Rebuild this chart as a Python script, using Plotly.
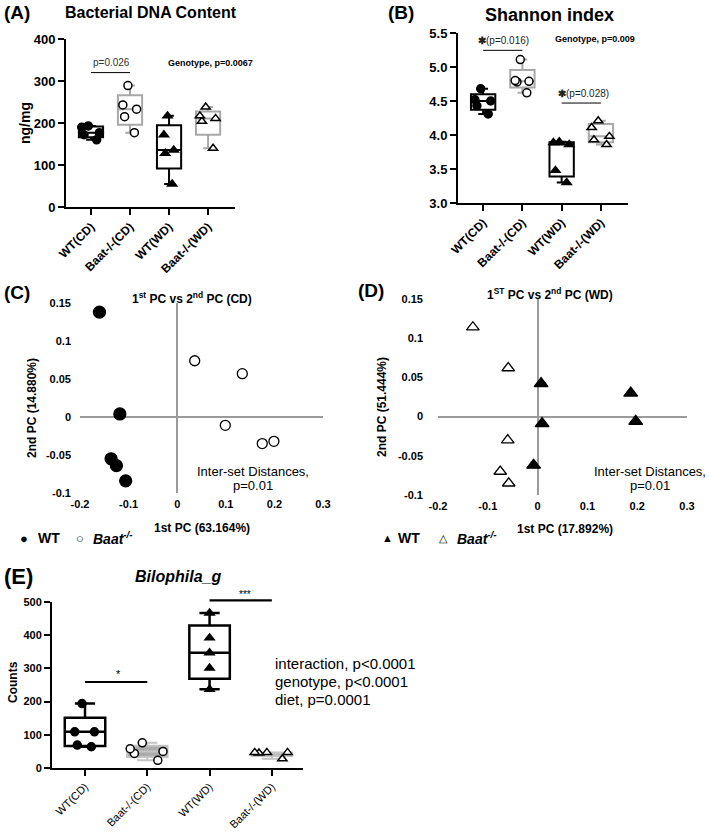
import plotly.graph_objects as go

W, H = 709, 835
FONT = "Liberation Sans, Arial, Helvetica, sans-serif"

GROUPS = ["WT(CD)", "Baat-/-(CD)", "WT(WD)", "Baat-/-(WD)"]

# (A) bacterial DNA content, ng/mg
dna_wt_cd = [193, 190, 177, 172, 160]
dna_ko_cd = [289, 243, 233, 215, 177]
dna_wt_wd = [217, 172, 136, 128, 55]
dna_ko_wd = [238, 217, 211, 204, 140]

# (B) Shannon index
shan_wt_cd = [4.68, 4.52, 4.50, 4.43, 4.31]
shan_ko_cd = [5.11, 4.80, 4.79, 4.78, 4.62]
shan_wt_wd = [3.90, 3.89, 3.86, 3.48, 3.30]
shan_ko_wd = [4.21, 4.11, 3.98, 3.93, 3.86]

# (C) PCA, control diet
cd_wt_pc1 = [-0.160, -0.118, -0.136, -0.125, -0.106]
cd_wt_pc2 = [0.138, 0.004, -0.055, -0.064, -0.084]
cd_ko_pc1 = [0.036, 0.134, 0.099, 0.175, 0.199]
cd_ko_pc2 = [0.074, 0.057, -0.011, -0.035, -0.032]

# (D) PCA, western diet
wd_wt_pc1 = [0.007, 0.187, 0.197, 0.009, -0.008]
wd_wt_pc2 = [0.042, 0.030, -0.006, -0.009, -0.062]
wd_ko_pc1 = [-0.130, -0.059, -0.060, -0.075, -0.058]
wd_ko_pc2 = [0.114, 0.062, -0.030, -0.070, -0.085]

# (E) Bilophila_g counts
bilo_wt_cd = [194, 109, 109, 69, 64]
bilo_ko_cd = [76, 58, 50, 44, 23]
bilo_wt_wd = [467, 392, 347, 301, 237]
bilo_ko_wd = [47, 47, 47, 45, 28]

pc1_ticks = [-0.2, -0.1, 0, 0.1, 0.2, 0.3]
pc1_text = ["-0.2", "-0.1", "0", "0.1", "0.2", "0.3"]
pc2_ticks = [-0.1, -0.05, 0, 0.05, 0.1, 0.15]
pc2_text = ["-0.1", "-0.05", "0", "0.05", "0.1", "0.15"]


def px(x):
    return x / W


def py(y):
    return 1 - y / H


def box(vals, name, ax, col, sym, mfill, jit, width=0.62, ww=0.4, fill="rgba(0,0,0,0)", lw=2, msize=8):
    return go.Box(
        y=vals, x=[name] * len(vals), xaxis="x" + ax, yaxis="y" + ax,
        boxpoints="all", jitter=jit, pointpos=0, quartilemethod="exclusive",
        line={"color": col, "width": lw}, fillcolor=fill, width=width, whiskerwidth=ww,
        marker={"symbol": sym, "color": mfill, "size": msize, "line": {"color": "black", "width": 1.5}},
        showlegend=False,
    )


GREY = "#a8a8a8"
fig = go.Figure()

# (A)
fig.add_trace(box(dna_wt_cd, GROUPS[0], "", "black", "circle", "black", 0.9))
fig.add_trace(box(dna_ko_cd, GROUPS[1], "", GREY, "circle", "white", 0.7))
fig.add_trace(box(dna_wt_wd, GROUPS[2], "", "black", "triangle-up", "black", 0.5))
fig.add_trace(box(dna_ko_wd, GROUPS[3], "", GREY, "triangle-up", "white", 0.8))
# (B)
fig.add_trace(box(shan_wt_cd, GROUPS[0], "2", "black", "circle", "black", 0.8))
fig.add_trace(box(shan_ko_cd, GROUPS[1], "2", GREY, "circle", "white", 0.7))
fig.add_trace(box(shan_wt_wd, GROUPS[2], "2", "black", "triangle-up", "black", 0.8))
fig.add_trace(box(shan_ko_wd, GROUPS[3], "2", GREY, "triangle-up", "white", 0.9))
# (E)
fig.add_trace(box(bilo_wt_cd, GROUPS[0], "5", "black", "circle", "black", 0.6, 0.65, 0.5, lw=2.5))
fig.add_trace(box(bilo_ko_cd, GROUPS[1], "5", "#c4c4c4", "circle", "white", 1.0, 0.65, 0.5, fill="#ababab"))
fig.add_trace(box(bilo_wt_wd, GROUPS[2], "5", "black", "triangle-up", "black", 0.0, 0.65, 0.5, lw=2.5))
fig.add_trace(box(bilo_ko_wd, GROUPS[3], "5", "#c4c4c4", "triangle-up", "white", 1.0, 0.65, 0.5, fill="#ababab"))


def pca(xs, ys, ax, sym, filled, size):
    return go.Scatter(
        x=xs, y=ys, xaxis="x" + ax, yaxis="y" + ax, mode="markers", showlegend=False,
        marker={"symbol": sym, "size": size, "color": "black" if filled else "white",
                "line": {"color": "black", "width": 1.3}},
    )


fig.add_trace(pca(cd_wt_pc1, cd_wt_pc2, "3", "circle", True, 12))
fig.add_trace(pca(cd_ko_pc1, cd_ko_pc2, "3", "circle", False, 10))
fig.add_trace(pca(wd_wt_pc1, wd_wt_pc2, "4", "triangle-up", True, 12))
fig.add_trace(pca(wd_ko_pc1, wd_ko_pc2, "4", "triangle-up", False, 11))


def cat_axes(x0, x1, y0, y1, yr, dtick, xr, xfont, yfont, fmt=""):
    xa = dict(domain=[px(x0), px(x1)], type="category", categoryorder="array", categoryarray=GROUPS,
              range=xr, showline=True, linecolor="black", linewidth=2, ticks="outside", ticklen=6,
              tickwidth=2, tickcolor="black", tickangle=-45, tickfont=xfont, showgrid=False,
              zeroline=False, automargin=False)
    ya = dict(domain=[py(y1), py(y0)], range=yr, dtick=dtick, tickformat=fmt, showline=True,
              linecolor="black", linewidth=2, ticks="outside", ticklen=6, tickwidth=2,
              tickcolor="black", tickfont=yfont, showgrid=False, zeroline=False, automargin=False)
    return xa, ya


def pca_axes(x0, x1, y0, y1, standoff):
    tf = {"size": 11, "weight": "bold", "color": "black"}
    xa = dict(domain=[px(x0), px(x1)], range=[-0.2, 0.3], tickvals=pc1_ticks, ticktext=pc1_text,
              showline=False, showgrid=False, zeroline=True, zerolinecolor="#9b9b9b", zerolinewidth=1.5,
              ticks="", tickfont=tf, ticklabelstandoff=3, automargin=False)
    ya = dict(domain=[py(y1), py(y0)], range=[-0.1, 0.15], tickvals=pc2_ticks, ticktext=pc2_text,
              showline=False, showgrid=False, zeroline=True, zerolinecolor="#9b9b9b", zerolinewidth=1.5,
              ticks="", tickfont=tf, ticklabelstandoff=standoff, automargin=False)
    return xa, ya


bold12 = {"size": 12, "weight": "bold", "color": "black"}
bold13 = {"size": 13, "weight": "bold", "color": "black"}
xa1, ya1 = cat_axes(66, 235, 39, 207, [0, 400], 100, [-0.64, 3.69], bold12, bold13)
xa2, ya2 = cat_axes(458, 628, 33, 203, [3.0, 5.5], 0.5, [-0.64, 3.69], bold12, bold13, ".1f")
xa3, ya3 = pca_axes(80, 323, 303, 493, 8)
xa4, ya4 = pca_axes(438, 687, 299, 495, 14)
xa5, ya5 = cat_axes(52, 303, 602, 768, [0, 500], 100, [-0.53, 3.5],
                    {"size": 11, "color": "black"}, {"size": 11, "weight": "bold", "color": "black"})

axes = [(xa1, ya1), (xa2, ya2), (xa3, ya3), (xa4, ya4), (xa5, ya5)]
for i, (xa, ya) in enumerate(axes, start=1):
    sfx = "" if i == 1 else str(i)
    xa["anchor"] = "y" + sfx
    ya["anchor"] = "x" + sfx
    fig.update_layout({"xaxis" + sfx: xa, "yaxis" + sfx: ya})


def y_to_paper(ya, v):
    (d0, d1), (r0, r1) = ya["domain"], ya["range"]
    return d0 + (v - r0) / (r1 - r0) * (d1 - d0)


# significance bars: (panel, from cat, to cat, level)
sig_bars = [(1, 0, 1, 320), (2, 0, 1, 5.245), (2, 2, 3, 4.47), (5, 0, 1, 259), (5, 2, 3, 505)]
for panel, c0, c1, lvl in sig_bars:
    xa, ya = axes[panel - 1]
    sfx = "" if panel == 1 else str(panel)
    yp = y_to_paper(ya, lvl)
    fig.add_shape(type="line", xref="x" + sfx, yref="paper", x0=c0, x1=c1, y0=yp, y1=yp,
                  line={"color": "black", "width": 2.2 if panel == 5 else 1})

anns = []


def ann(text, x, y, size, weight="normal", xanchor="center", angle=0, style="normal", color="black"):
    anns.append(dict(text=text, x=px(x), y=py(y), xref="paper", yref="paper", showarrow=False,
                     xanchor=xanchor, yanchor="middle", textangle=angle,
                     font={"size": size, "weight": weight, "style": style, "color": color, "family": FONT}))


# panel letters and titles
ann("(A)", 2, 13, 19, "bold", "left")
ann("Bacterial DNA Content", 151, 12, 16, "bold")
ann("(B)", 386, 13, 19, "bold", "left")
ann("Shannon index", 549, 15, 18, "bold")
ann("(C)", 2, 292, 19, "bold", "left")
ann("1<sup>st</sup> PC vs 2<sup>nd</sup> PC (CD)", 192, 298, 12, "bold")
ann("(D)", 356, 290, 19, "bold", "left")
ann("1<sup>ST</sup> PC vs 2<sup>nd</sup> PC (WD)", 550, 294, 12, "bold")
ann("(E)", 2, 576, 22, "bold", "left")
ann("Bilophila_g", 178, 576, 16, "bold", style="italic")

# axis titles
ann("ng/mg", 25, 123, 14, "bold", angle=-90)
ann("2nd PC (14.880%)", 32, 408, 12, "bold", angle=-90)
ann("1st PC (63.164%)", 202, 528, 12, "bold")
ann("2nd PC (51.444%)", 382, 407, 12, "bold", angle=-90)
ann("1st PC (17.892%)", 565, 529, 12, "bold")
ann("Counts", 13, 682, 12, "bold", angle=-90)

# stats
ann("p=0.026", 111, 63, 10, color="#333333")
ann("Genotype, p=0.0067", 210, 63, 9, "bold")
ann("<b>✱</b>(p=0.016)", 503, 40, 10, color="#222222")
ann("Genotype, p=0.009", 595, 39, 9, "bold")
ann("<b>✱</b>(p=0.028)", 583, 94, 10, color="#222222")
ann("Inter-set Distances,", 253, 472, 13)
ann("p=0.01", 253, 486, 13)
ann("Inter-set Distances,", 650, 472, 13)
ann("p=0.01", 650, 486, 13)
ann("*", 118, 674, 11)
ann("***", 245, 594, 10)
ann("interaction, p<0.0001", 273, 663, 15, xanchor="left")
ann("genotype, p<0.0001", 273, 681, 15, xanchor="left")
ann("diet, p=0.0001", 273, 699, 15, xanchor="left")

# legends for C and D
ann("●", 24, 538, 13)
ann("WT", 36, 538, 14, "bold", "left")
ann("○", 80, 538, 13)
ann("Baat<sup>-/-</sup>", 91, 538, 14, "bold", "left", style="italic")
ann("▲", 387, 538, 11)
ann("WT", 396, 538, 14, "bold", "left")
ann("△", 443, 538, 11)
ann("Baat<sup>-/-</sup>", 455, 538, 14, "bold", "left", style="italic")

fig.update_layout(
    template="none",
    width=W, height=H, margin={"l": 0, "r": 0, "t": 0, "b": 0},
    paper_bgcolor="white", plot_bgcolor="white",
    font={"family": FONT, "color": "black"},
    showlegend=False, annotations=anns,
)

# drop the browser's default 8px body margin so the figure sits at the page corner
fig.write_html("out.html", config={"displayModeBar": False},
               post_script="document.body.style.margin = '0';")
